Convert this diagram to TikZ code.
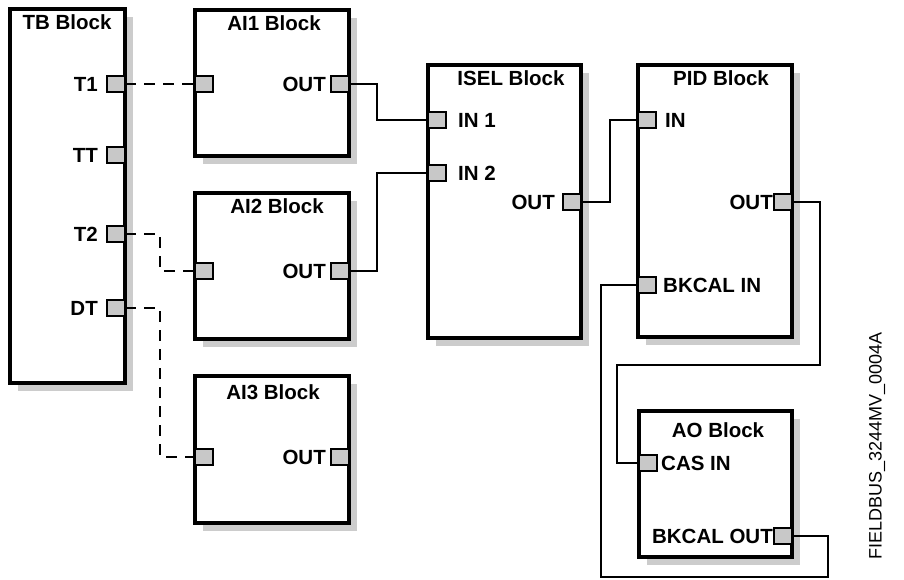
\documentclass[tikz,border=0pt]{standalone}
\usepackage{fontspec}
\setmainfont{Liberation Sans}
\usetikzlibrary{shadows}
\definecolor{shadowgray}{HTML}{CCCCCC}
\definecolor{portgray}{HTML}{C8C8C8}
\begin{document}
\begin{tikzpicture}[x=1pt,y=-1pt,
  block/.style={draw=black, line width=3.2pt, fill=white, inner sep=0pt, outer sep=0pt,
    drop shadow={shadow xshift=8pt, shadow yshift=-8pt, fill=shadowgray, opacity=1}},
  port/.style={draw=black, line width=2.8pt, fill=portgray, minimum width=18pt, minimum height=16pt, inner sep=0pt, outer sep=0pt},
  lbl/.style={font=\fontsize{20.5}{24}\selectfont\bfseries, inner sep=0pt},
  ttl/.style={font=\fontsize{20.5}{24}\selectfont\bfseries, inner sep=0pt, anchor=base},
  wire/.style={line width=2.4pt},
  dwire/.style={line width=2.8pt, dash pattern=on 11pt off 8pt}
]
\useasboundingbox (0,0) rectangle (904,580);
% blocks
\node[block, minimum width=115pt, minimum height=374pt] (tb)   at (67.5,196) {};
\node[block, minimum width=154pt, minimum height=146pt] (ai1)  at (272,83) {};
\node[block, minimum width=154pt, minimum height=146pt] (ai2)  at (272,266) {};
\node[block, minimum width=154pt, minimum height=147pt] (ai3)  at (272,449.5) {};
\node[block, minimum width=153pt, minimum height=273pt] (isel) at (504.5,201.5) {};
\node[block, minimum width=154pt, minimum height=272pt] (pid)  at (715,201) {};
\node[block, minimum width=153pt, minimum height=146pt] (ao)   at (715.5,484) {};
% titles
\node[ttl] (tbt)   at (67,30)   {TB Block};
\node[ttl] (ai1t)  at (274,31)  {AI1 Block};
\node[ttl] (ai2t)  at (277,213) {AI2 Block};
\node[ttl] (ai3t)  at (273,399) {AI3 Block};
\node[ttl] (iselt) at (511,86)  {ISEL Block};
\node[ttl] (pidt)  at (721,86)  {PID Block};
\node[ttl] (aot)   at (718,437) {AO Block};
% ports
\node[port] (tbT1) at (116,84) {};
\node[port] (tbTT) at (116,155) {};
\node[port] (tbT2) at (116,234) {};
\node[port] (tbDT) at (116,308) {};
\node[port] (ai1in) at (204,84) {};
\node[port] (ai1out) at (340,84) {};
\node[port] (ai2in) at (204,271) {};
\node[port] (ai2out) at (340,271) {};
\node[port] (ai3in) at (204,457) {};
\node[port] (ai3out) at (340,457) {};
\node[port] (iselin1) at (437,120) {};
\node[port] (iselin2) at (437,173) {};
\node[port] (iselout) at (572,202) {};
\node[port] (pidin) at (647,120) {};
\node[port] (pidout) at (783,202) {};
\node[port] (pidbk) at (647,285) {};
\node[port] (aocas) at (648,463) {};
\node[port] (aobk) at (783,536) {};
% port labels
\node[lbl, anchor=east] (lT1) at ([xshift=-9pt]tbT1.west) {T1};
\node[lbl, anchor=east] (lTT) at ([xshift=-9pt]tbTT.west) {TT};
\node[lbl, anchor=east] (lT2) at ([xshift=-9pt]tbT2.west) {T2};
\node[lbl, anchor=east] (lDT) at ([xshift=-9pt]tbDT.west) {DT};
\node[lbl, anchor=east] (l1o) at ([xshift=-5pt]ai1out.west) {OUT};
\node[lbl, anchor=east] (l2o) at ([xshift=-5pt]ai2out.west) {OUT};
\node[lbl, anchor=east] (l3o) at ([xshift=-5pt]ai3out.west) {OUT};
\node[lbl, anchor=west] (lin1) at ([xshift=12pt]iselin1.east) {IN 1};
\node[lbl, anchor=west] (lin2) at ([xshift=12pt]iselin2.east) {IN 2};
\node[lbl, anchor=east] (liso) at ([xshift=-8pt]iselout.west) {OUT};
\node[lbl, anchor=west] (lpin) at ([xshift=9pt]pidin.east) {IN};
\node[lbl, anchor=east] (lpo) at ([xshift=-1pt]pidout.west) {OUT};
\node[lbl, anchor=west] (lpbk) at ([xshift=7pt]pidbk.east) {BKCAL IN};
\node[lbl, anchor=west] (lcas) at ([xshift=4pt]aocas.east) {CAS IN};
\node[lbl, anchor=east] (laobk) at ([xshift=-1pt]aobk.west) {BKCAL OUT};
% connectors
\draw[dwire] (tbT1.east) -- (ai1in.west);
\draw[dwire] (tbT2.east) -- ++(35,0) |- (ai2in.west);
\draw[dwire] (tbDT.east) -- ++(35,0) |- (ai3in.west);
\draw[wire] (ai1out.east) -- ++(28,0) |- (iselin1.west);
\draw[wire] (ai2out.east) -- ++(28,0) |- (iselin2.west);
\draw[wire] (iselout.east) -- ++(29,0) |- (pidin.west);
\draw[wire] (pidout.east) -- ++(28,0) -- ++(0,163) -| ([xshift=-22pt]aocas.west) -- (aocas.west);
\draw[wire] (aobk.east) -- ++(36,0) -- ++(0,41) -| ([xshift=-37pt]pidbk.west) -- (pidbk.west);
% figure id
\node[font=\fontsize{18}{20}\selectfont, rotate=90, inner sep=0pt] (figid) at (877,446) {FIELDBUS\_3244MV\_0004A};
\end{tikzpicture}
\end{document}
